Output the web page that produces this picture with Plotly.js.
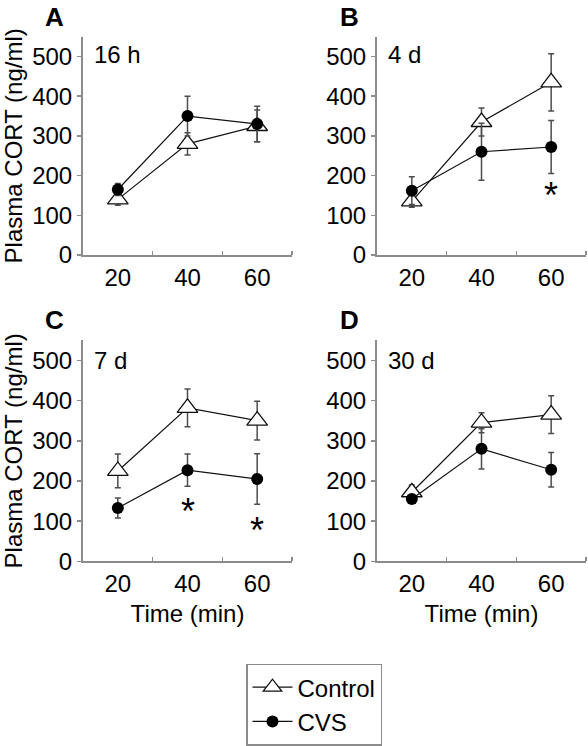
<!DOCTYPE html>
<html>
<head>
<meta charset="utf-8">
<script src="https://cdn.plot.ly/plotly-3.0.1.min.js"></script>
<style>
html,body{margin:0;padding:0;background:#fff;}
#chart{width:588px;height:746px;}
</style>
</head>
<body>
<div id="chart"></div>
<script>
// ---- data ----
const times = [20, 40, 60];
const panelLetters = ["A", "B", "C", "D"];
const panelLabels = ["16 h", "4 d", "7 d", "30 d"];

const controlA = [140, 280, 325];
const controlA_err = [15, 28, 40];
const cvsA = [165, 350, 330];
const cvsA_err = [15, 50, 45];

const controlB = [135, 335, 435];
const controlB_err = [15, 35, 72];
const cvsB = [162, 260, 272];
const cvsB_err = [35, 72, 67];

const controlC = [225, 382, 350];
const controlC_err = [42, 47, 48];
const cvsC = [133, 227, 205];
const cvsC_err = [25, 40, 63];

const controlD = [172, 345, 365];
const controlD_err = [18, 25, 47];
const cvsD = [155, 280, 228];
const cvsD_err = [10, 50, 43];

// significance asterisks: panel index, time, y position
const sigPanel = [1, 2, 2];
const sigX = [60, 40, 60];
const sigY = [150, 125, 76];

const xTickVals = [20, 40, 60];
const xTickText = ["20", "40", "60"];
const xMinorTicks = [30, 50, 70];
const yTickVals = [0, 100, 200, 300, 400, 500];

// ---- layout helpers ----
const FONT = "Liberation Sans, Arial, Helvetica, sans-serif";
const AXC = "#8c8c8c";
const controls = [controlA, controlB, controlC, controlD];
const controlsErr = [controlA_err, controlB_err, controlC_err, controlD_err];
const cvss = [cvsA, cvsB, cvsC, cvsD];
const cvssErr = [cvsA_err, cvsB_err, cvsC_err, cvsD_err];

const W = 588, H = 746;
const xDomains = [[83 / W, 292 / W], [377 / W, 586 / W]];
const yDomains = [[1 - 257 / H, 1 - 37 / H], [1 - 566 / H, 1 - 343 / H]];

const traces = [];
const layout = {
  width: W, height: H,
  margin: {l: 0, r: 0, t: 0, b: 0},
  paper_bgcolor: "#fff", plot_bgcolor: "#fff",
  font: {family: FONT, size: 24, color: "#000"},
  showlegend: true,
  legend: {
    x: 246 / W, y: 1 - 669 / H, xanchor: "left", yanchor: "top",
    bordercolor: AXC, borderwidth: 1.5, bgcolor: "#fff",
    font: {family: FONT, size: 24, color: "#000"},
    itemwidth: 40, tracegroupgap: 0
  },
  annotations: [],
  shapes: []
};

for (let p = 0; p < 4; p++) {
  const col = p % 2, row = Math.floor(p / 2);
  const sx = p === 0 ? "" : String(p + 1);
  const xa = "x" + sx, ya = "y" + sx;
  const errStyle = {type: "data", visible: true, color: "#4d4d4d", thickness: 1.5, width: 3};
  traces.push({
    x: times, y: controls[p], xaxis: xa, yaxis: ya,
    type: "scatter", mode: "lines+markers", name: "Control",
    legendgroup: "control", showlegend: p === 0,
    line: {color: "#111", width: 1.2},
    marker: {symbol: "triangle-up", size: 18, color: "#fff", line: {color: "#111", width: 1.3}},
    error_y: Object.assign({array: controlsErr[p]}, errStyle),
    cliponaxis: false
  });
  traces.push({
    x: times, y: cvss[p], xaxis: xa, yaxis: ya,
    type: "scatter", mode: "lines+markers", name: "CVS",
    legendgroup: "cvs", showlegend: p === 0,
    line: {color: "#111", width: 1.2},
    marker: {symbol: "circle", size: 12, color: "#000", line: {color: "#000", width: 0}},
    error_y: Object.assign({array: cvssErr[p]}, errStyle),
    cliponaxis: false
  });

  layout["xaxis" + sx] = {
    domain: xDomains[col], anchor: ya, range: [10, 70],
    tickmode: "array", tickvals: xTickVals, ticktext: xTickText, ticks: "",
    showline: true, linecolor: AXC, linewidth: 2, showgrid: false, zeroline: false,
    tickfont: {family: FONT, size: 24, color: "#000"},
    minor: {tickmode: "array", tickvals: xMinorTicks, ticks: "inside", ticklen: 4, tickcolor: AXC, tickwidth: 1.5, showgrid: false},
    title: row === 1 ? {text: "Time (min)", font: {family: FONT, size: 24, color: "#000"}, standoff: 9} : {text: ""},
    fixedrange: true
  };
  layout["yaxis" + sx] = {
    domain: yDomains[row], anchor: xa, range: [0, 550],
    tickmode: "array", tickvals: yTickVals, ticks: "outside", ticklen: 4, tickcolor: AXC, tickwidth: 1.5,
    showline: true, linecolor: AXC, linewidth: 2, showgrid: false, zeroline: false,
    tickfont: {family: FONT, size: 24, color: "#000"},
    title: col === 0 ? {text: "Plasma CORT (ng/ml)", font: {family: FONT, size: 24, color: "#000"}, standoff: 4} : {text: ""},
    fixedrange: true
  };

  // panel letter
  layout.annotations.push({
    xref: "paper", yref: "paper",
    x: (col === 0 ? 54 : 349) / W, y: 1 - (row === 0 ? 17 : 323) / H,
    xanchor: "center", yanchor: "middle", showarrow: false,
    text: "<b>" + panelLetters[p] + "</b>", font: {family: FONT, size: 26, color: "#000"}
  });
  // inset label
  layout.annotations.push({
    xref: "paper", yref: "paper",
    x: (col === 0 ? 92 : 386) / W, y: 1 - (row === 0 ? 55 : 363) / H,
    xanchor: "left", yanchor: "middle", showarrow: false,
    text: panelLabels[p], font: {family: FONT, size: 24, color: "#000"}
  });
}

for (let i = 0; i < sigPanel.length; i++) {
  const p = sigPanel[i];
  const sx = p === 0 ? "" : String(p + 1);
  layout.annotations.push({
    xref: "x" + sx, yref: "y" + sx, x: sigX[i], y: sigY[i],
    xanchor: "center", yanchor: "middle", showarrow: false,
    text: "*", font: {family: FONT, size: 36, color: "#000"}
  });
}

Plotly.newPlot("chart", traces, layout, {displayModeBar: false, staticPlot: true});
</script>
</body>
</html>
